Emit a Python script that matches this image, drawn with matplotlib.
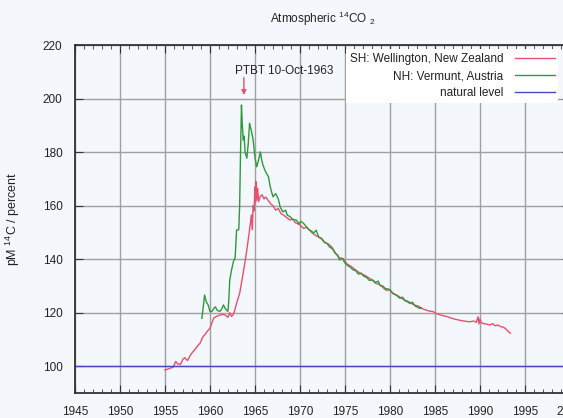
import matplotlib.pyplot as plt
from matplotlib.ticker import MultipleLocator

plt.rcParams['font.family'] = ['Liberation Sans', 'DejaVu Sans']
plt.rcParams['mathtext.default'] = 'regular'

# SH: Wellington, New Zealand
sh_year = [1955.0, 1955.3, 1955.6, 1955.9, 1956.2, 1956.4, 1956.7, 1957.0, 1957.2, 1957.5,
           1957.8, 1958.1, 1958.4, 1958.7, 1958.9, 1959.2, 1959.4, 1959.7, 1960.0, 1960.2,
           1960.4, 1960.7, 1961.1, 1961.4, 1961.7, 1962.0, 1962.2, 1962.4, 1962.6, 1962.8,
           1963.0, 1963.3, 1963.6, 1963.9, 1964.1, 1964.4, 1964.6, 1964.7, 1964.8, 1964.9,
           1965.0, 1965.05, 1965.1, 1965.2, 1965.3, 1965.4, 1965.6, 1965.8, 1966.0, 1966.2,
           1966.5, 1966.8, 1967.0, 1967.3, 1967.6, 1967.9, 1968.2, 1968.5, 1968.9, 1969.2,
           1969.5, 1970.0, 1970.4, 1970.8, 1971.2, 1971.6, 1972.0, 1972.4, 1972.8, 1973.2,
           1973.6, 1974.0, 1974.4, 1974.8, 1975.2, 1975.6, 1976.0, 1976.4, 1976.8, 1977.2,
           1977.6, 1978.0, 1978.4, 1978.8, 1979.2, 1979.6, 1980.0, 1980.4, 1980.8, 1981.2,
           1981.6, 1982.0, 1982.4, 1982.8, 1983.2, 1983.6, 1984.0, 1984.4, 1984.8, 1985.2,
           1985.6, 1986.0, 1986.4, 1986.8, 1987.2, 1987.6, 1988.0, 1988.4, 1988.9, 1989.3,
           1989.6, 1989.8, 1989.9, 1990.0, 1990.2, 1990.5, 1990.8, 1991.1, 1991.4, 1991.7,
           1992.0, 1992.3, 1992.6, 1992.8, 1993.1, 1993.4]
sh_pm = [98.6, 98.9, 99.3, 99.6, 101.8, 100.9, 100.6, 102.6, 103.2, 102.1,
         104.0, 105.4, 106.5, 107.9, 108.6, 110.9, 111.7, 113.0, 114.2, 116.0,
         117.9, 118.6, 119.1, 119.4, 119.1, 118.3, 120.0, 118.6, 119.3, 121.5,
         124.0, 127.2, 133.0, 139.0, 143.5, 150.9, 156.5, 151.0, 160.0, 158.0,
         167.0, 161.0, 169.0, 162.0, 166.5, 161.5, 163.5, 164.0, 162.5, 163.2,
         161.8, 160.5, 160.0, 158.3, 158.9, 157.0, 156.4, 155.6, 154.6, 155.0,
         153.6, 152.8, 151.5, 151.9, 150.3, 149.2, 148.4, 147.8, 146.2, 145.6,
         144.3, 142.0, 140.5, 140.2, 138.3, 137.5, 136.5, 135.4, 134.5, 134.0,
         133.1, 132.3, 131.0, 130.6, 129.5, 128.3, 128.6, 127.0, 126.5, 125.6,
         124.7, 124.3, 123.4, 122.8, 122.4, 121.5, 121.0, 120.6, 120.4, 119.6,
         119.2, 118.8, 118.5, 118.0, 117.6, 117.3, 117.0, 116.8, 116.6, 116.9,
         116.4, 118.5, 115.8, 117.6, 116.1, 115.9, 115.7, 115.4, 115.9, 115.1,
         115.4, 114.8, 114.6, 114.2, 113.2, 112.3]

# NH: Vermunt, Austria
nh_year = [1959.1, 1959.25, 1959.4, 1959.6, 1959.8, 1960.0, 1960.2, 1960.4, 1960.6, 1960.8,
           1961.1, 1961.3, 1961.5, 1961.7, 1962.0, 1962.1, 1962.2, 1962.4, 1962.6, 1962.8,
           1962.96, 1963.2, 1963.3, 1963.4, 1963.5, 1963.6, 1963.7, 1963.8, 1963.9, 1964.1,
           1964.25, 1964.4, 1964.6, 1964.8, 1965.0, 1965.2, 1965.4, 1965.6, 1965.75, 1965.9,
           1966.2, 1966.5, 1966.7, 1967.0, 1967.3, 1967.6, 1967.8, 1968.1, 1968.4, 1968.6,
           1968.9, 1969.2, 1969.6, 1969.9, 1970.1, 1970.4, 1970.7, 1971.0, 1971.3, 1971.5,
           1971.8, 1972.1, 1972.4, 1972.7, 1973.0, 1973.3, 1973.6, 1973.9, 1974.2, 1974.4,
           1974.7, 1975.0, 1975.3, 1975.6, 1975.9, 1976.2, 1976.5, 1976.8, 1977.1, 1977.4,
           1977.7, 1978.1, 1978.4, 1978.7, 1978.9, 1979.2, 1979.5, 1979.8, 1980.0, 1980.3,
           1980.6, 1980.9, 1981.1, 1981.4, 1981.7, 1982.0, 1982.2, 1982.5, 1982.8, 1983.0,
           1983.3, 1983.5]
nh_pm = [117.9, 122.0, 126.6, 124.0, 122.9, 120.5, 120.4, 121.5, 122.2, 120.9,
         120.5, 121.3, 122.9, 121.5, 120.5, 125.0, 132.2, 136.0, 139.0, 140.6,
         150.9, 151.0, 160.0, 180.0, 197.6, 190.0, 184.5, 186.0, 180.0, 177.7,
         183.0, 190.8, 188.0, 184.5, 178.0, 174.5, 177.0, 180.1, 177.0, 175.0,
         172.5, 170.8, 167.0, 163.3, 164.5, 162.5, 159.5, 157.7, 158.3, 156.4,
         155.9, 154.8, 154.6, 153.2, 154.1, 153.4, 152.1, 151.0, 150.5, 149.7,
         150.8, 148.2, 147.6, 146.3, 145.9, 144.5, 143.9, 142.3, 141.5, 139.7,
         140.3, 138.6, 137.6, 137.0, 136.0, 135.7, 134.4, 134.8, 133.6, 133.2,
         132.1, 132.2, 131.3, 131.8, 130.2, 130.0, 129.0, 128.9, 128.5, 127.3,
         126.8, 126.0, 125.4, 125.8, 124.4, 124.0, 123.5, 123.9, 122.5, 122.2,
         121.6, 121.8]

natural_level = 100
ptbt_date = 1963.77  # 10-Oct-1963

red = '#e8506e'
green = '#2e9a3c'
blue = '#4848c0'
bg = '#f4f7fb'

fig = plt.figure(figsize=(5.63, 4.18), dpi=100, facecolor=bg)
ax = fig.add_axes([0.1332, 0.0598, 0.879, 0.8325], facecolor=bg)

ax.plot(sh_year, sh_pm, color=red, lw=1.0, label='SH: Wellington, New Zealand')
ax.plot(nh_year, nh_pm, color=green, lw=1.0, label='NH: Vermunt, Austria')
ax.axhline(natural_level, color=blue, lw=1.0, label='natural level')

ax.annotate('', xy=(ptbt_date, 201.3), xytext=(ptbt_date, 207.8),
            arrowprops=dict(arrowstyle='-|>', color=red, lw=1.0, mutation_scale=7,
                            shrinkA=0, shrinkB=0))
ax.text(1962.8, 210.3, 'PTBT 10-Oct-1963', fontsize=8.5, color='#222222',
        ha='left', va='center')

ax.set_xlim(1945, 2000)
ax.set_ylim(90, 220)
ax.xaxis.set_major_locator(MultipleLocator(5))
ax.xaxis.set_minor_locator(MultipleLocator(1))
ax.set_yticks([100, 120, 140, 160, 180, 200, 220])
ax.grid(True, which='major', color='#a0a0a0', lw=1.0)
ax.set_axisbelow(True)

ax.tick_params(which='both', direction='in', top=True, right=True,
               labelsize=8.5, labelcolor='#222222', color='#333333')
ax.tick_params(which='major', length=6, pad=9)
ax.tick_params(which='minor', length=3)
for s in ax.spines.values():
    s.set_color('#333333')
    s.set_linewidth(1.3)

ax.set_title('Atmospheric $^{14}$CO $_2$', fontsize=8.5, color='#222222', pad=16)
ax.set_ylabel('pM $^{14}$C / percent', fontsize=9, color='#222222')
ax.yaxis.set_label_coords(-0.107, 0.5)

leg = ax.legend(loc='upper right', bbox_to_anchor=(0.977, 0.988), borderaxespad=0,
                markerfirst=False, fontsize=8.5, handlelength=3.4, handletextpad=1.0,
                labelspacing=0.45, borderpad=0.3, frameon=True, fancybox=False,
                facecolor='white', edgecolor='none', framealpha=1.0)
for t in leg.get_texts():
    t.set_color('#222222')

fig.savefig('out.png', dpi=100, facecolor=bg)
